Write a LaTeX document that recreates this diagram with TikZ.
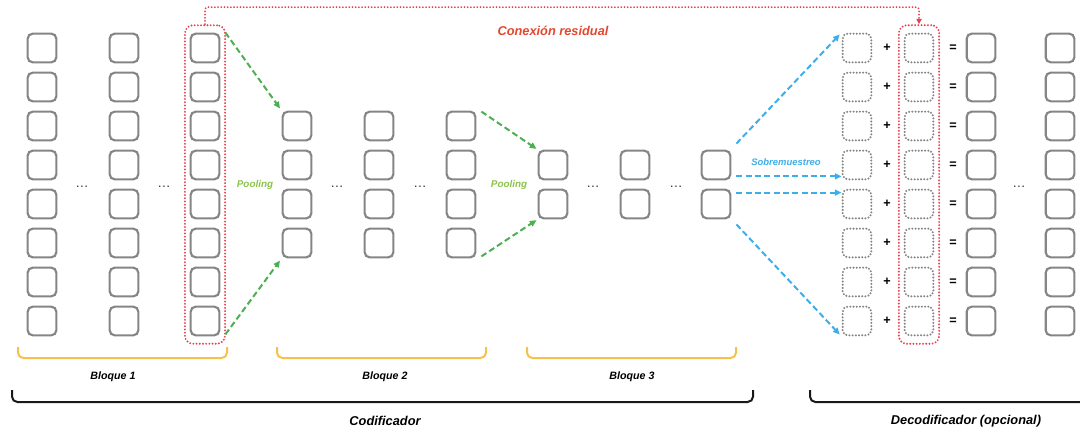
\documentclass[tikz,border=0pt]{standalone}
\usepackage{fontspec}
\setmainfont{Liberation Sans}
\usetikzlibrary{arrows.meta,calc,fit}
\definecolor{cellgray}{HTML}{858585}
\definecolor{resred}{HTML}{E8414F}
\definecolor{textred}{HTML}{E2472F}
\definecolor{poolgreen}{HTML}{4CAF50}
\definecolor{lblgreen}{HTML}{8BC34A}
\definecolor{upblue}{HTML}{3DAEE9}
\definecolor{blkyellow}{HTML}{F7C04A}
\begin{document}
\begin{tikzpicture}[x=0.75pt,y=-0.75pt,
 cell/.style={draw=cellgray,line width=1.6pt,rounded corners=3.75pt,minimum size=21.5pt,inner sep=0pt},
 ghost/.style={cell,line width=1.7pt,dash pattern=on 0pt off 2.4pt,line cap=round},
 hold/.style={draw=resred,line width=1.6pt,dash pattern=on 0pt off 2.4pt,line cap=round,rounded corners=6pt,inner xsep=3.5pt,inner ysep=5.5pt},
 pool/.style={-{Triangle[length=5pt,width=4.5pt]},line width=1.5pt,dash pattern=on 4.5pt off 2.5pt,poolgreen},
 upsamp/.style={pool,upblue},
 skip/.style={-{Triangle[length=4pt,width=4pt]},line width=1.5pt,dash pattern=on 0pt off 2.4pt,line cap=round,resred,rounded corners=2pt},
 ellip/.style={font=\fontsize{10}{10}\selectfont,text=black!80,inner sep=0pt},
 op/.style={font=\fontsize{9.5}{9.5}\selectfont\bfseries,inner sep=0pt},
 lbl/.style={font=\fontsize{7.4}{8}\selectfont\bfseries\itshape},
 part/.style={font=\fontsize{9.6}{11}\selectfont\bfseries\itshape},
 brk/.style={line width=1.5pt,rounded corners=4pt}]
\useasboundingbox (0,0) rectangle (1080,427);

% bloque 1
\foreach \c/\x in {1/42,2/124,3/205}{
 \foreach \r in {1,...,8}{
  \node[cell] (b1-\c-\r) at (\x,{48+39*(\r-1)}) {};
 }
}
% bloque 2
\foreach \c/\x in {1/297,2/379,3/461}{
 \foreach \r in {1,...,4}{
  \node[cell] (b2-\c-\r) at (\x,{126+39*(\r-1)}) {};
 }
}
% bloque 3
\foreach \c/\x in {1/553,2/635,3/716}{
 \foreach \r in {1,2}{
  \node[cell] (b3-\c-\r) at (\x,{165+39*(\r-1)}) {};
 }
}
% decodificador
\foreach \r [evaluate=\r as \y using 48+39*(\r-1)] in {1,...,8}{
 \node[ghost] (up-\r) at (857,\y) {};
 \node[op] (plus-\r) at (887,\y) {+};
 \node[ghost] (res-\r) at (919,\y) {};
 \node[op] (eq-\r) at (953,\y) {=};
 \node[cell] (out-\r) at (981,\y) {};
 \node[cell] (fin-\r) at (1060,\y) {};
}
\foreach \x [count=\i] in {82,164,337,420,593,676,1019}
 \node[ellip] (dots-\i) at (\x,187) {\textellipsis};

% conexion residual
\node[hold,fit=(b1-3-1)(b1-3-8)] (skipsrc) {};
\node[hold,fit=(res-1)(res-8)] (skipdst) {};
\draw[skip] (skipsrc.north) -- ++(0,-17) -| (skipdst.north);
\node[part,text=textred] (skiplbl) at (553,31) {Conexión residual};

% pooling
\draw[pool,shorten >=2pt] ($(b1-3-1.north east)+(5,0)$) -- (b2-1-1.north west);
\draw[pool,shorten >=2pt] ($(b1-3-8.south east)+(5,-2)$) -- (b2-1-4.south west);
\draw[pool,shorten >=1pt] ($(b2-3-1.north east)+(5,1)$) -- (b3-1-1.north west);
\draw[pool,shorten >=1pt] ($(b2-3-4.south east)+(5,-2)$) -- (b3-1-2.south west);
\node[lbl,text=lblgreen] (pool1) at (255,185) {Pooling};
\node[lbl,text=lblgreen] (pool2) at (509,185) {Pooling};

% sobremuestreo
\coordinate (upa) at ($(b3-3-1.south east)+(5,-4)$);
\coordinate (upb) at ($(b3-3-2.north east)+(5,4)$);
\draw[upsamp,shorten >=2pt] ($(b3-3-1.north east)+(5,-6)$) -- (up-1.north west);
\draw[upsamp] (upa) -- (up-4.west |- upa);
\draw[upsamp] (upb) -- (up-5.west |- upb);
\draw[upsamp,shorten >=2pt] ($(b3-3-2.south east)+(5,5)$) -- (up-8.south west);
\node[lbl,text=upblue,font=\fontsize{7.1}{8}\selectfont\bfseries\itshape] (uplbl) at (786,162) {Sobremuestreo};

% llaves
\draw[brk,blkyellow] (18,347) -- (18,358) -- (227,358) -- (227,347);
\draw[brk,blkyellow] (277,347) -- (277,358) -- (486,358) -- (486,347);
\draw[brk,blkyellow] (527,347) -- (527,358) -- (736,358) -- (736,347);
\node[lbl,font=\fontsize{8}{9}\selectfont\bfseries\itshape] (blk1) at (113,377) {Bloque 1};
\node[lbl,font=\fontsize{8}{9}\selectfont\bfseries\itshape] (blk2) at (385,377) {Bloque 2};
\node[lbl,font=\fontsize{8}{9}\selectfont\bfseries\itshape] (blk3) at (632,377) {Bloque 3};
\draw[brk,black!90] (12,390) -- (12,402) -- (753,402) -- (753,390);
\draw[brk,black!90] (810,390) -- (810,402) -- (1086,402);
\node[part] (enc) at (385,421) {Codificador};
\node[part] (dec) at (966,421) {Decodificador (opcional)};
\end{tikzpicture}
\end{document}
